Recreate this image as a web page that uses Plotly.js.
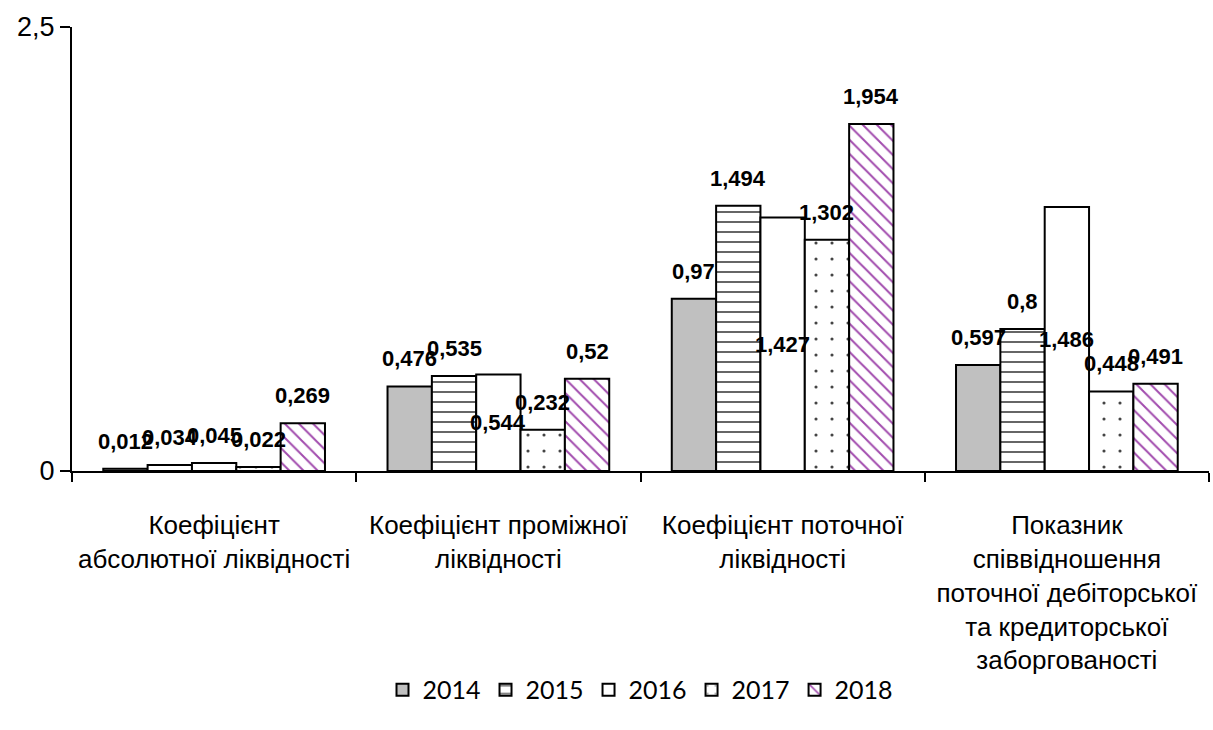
<!DOCTYPE html>
<html><head><meta charset="utf-8">
<script src="https://cdn.plot.ly/plotly-3.0.1.min.js"></script>
<style>html,body{margin:0;padding:0;background:#fff}#chart{width:1213px;height:730px}</style>
</head><body><div id="chart"></div>
<script>
// ---- data ----
const categories = [
  'Коефіцієнт<br>абсолютної ліквідності',
  'Коефіцієнт проміжної<br>ліквідності',
  'Коефіцієнт поточної<br>ліквідності',
  'Показник<br>співвідношення<br>поточної дебіторської<br>та кредиторської<br>заборгованості'
];
const years = ['2014', '2015', '2016', '2017', '2018'];
const v2014 = [0.012, 0.476, 0.97, 0.597];
const v2015 = [0.034, 0.535, 1.494, 0.8];
const v2016 = [0.045, 0.544, 1.427, 1.486];
const v2017 = [0.022, 0.232, 1.302, 0.448];
const v2018 = [0.269, 0.52, 1.954, 0.491];
const yTickVals = [0, 2.5];
const yTickText = ['0', '2,5'];

// ---- styles ----
const series = [v2014, v2015, v2016, v2017, v2018];
const styles = [
  {color: '#c0c0c0'},
  {color: '#ffffff', pattern: {shape: '-', fgcolor: '#333', bgcolor: '#fff', size: 10, solidity: 0.15}},
  {color: '#ffffff'},
  {color: '#ffffff', pattern: {shape: '.', fgcolor: '#444', bgcolor: '#fff', size: 16, solidity: 0.03}},
  {color: '#ffffff', pattern: {shape: '\\', fgcolor: '#a24cae', bgcolor: '#fff', size: 10, solidity: 0.2}}
];
const labelMiddle = [false, false, true, false, false];
const bargap = 0.22;
const barW = (1 - bargap) / series.length;
const plotH = 730 - 27 - 259;
const yMax = 2.5;

const traces = series.map((vals, i) => ({
  type: 'bar',
  name: years[i],
  x: categories,
  y: vals,
  marker: Object.assign({line: {color: '#000', width: 2}}, styles[i]),
  hoverinfo: 'skip'
}));

const fmt = v => String(v).replace('.', ',');
const annotations = [];
series.forEach((vals, i) => {
  vals.forEach((v, k) => {
    const px = v / yMax * plotH;
    const mid = labelMiddle[i] && px > 30;
    annotations.push({
      x: k + (i - (series.length - 1) / 2) * barW,
      y: mid ? v / 2 : v,
      xref: 'x', yref: 'y',
      text: fmt(v),
      showarrow: false,
      xanchor: 'center',
      yanchor: mid ? 'middle' : 'bottom',
      yshift: mid ? 0 : 13,
      font: {family: 'Liberation Sans, Arial', size: 22, color: '#000', weight: 'bold'}
    });
  });
});

const layout = {
  width: 1213, height: 730,
  margin: {l: 72, r: 4, t: 27, b: 259},
  paper_bgcolor: '#fff', plot_bgcolor: '#fff',
  separators: ', ',
  barmode: 'group',
  bargap: bargap,
  bargroupgap: 0,
  showlegend: true,
  legend: {
    orientation: 'h', x: 0.5, xanchor: 'center', y: -0.493, yanchor: 'middle',
    font: {family: 'Lato, Open Sans, sans-serif', size: 25, color: '#000'},
    traceorder: 'normal'
  },
  xaxis: {
    type: 'category',
    showline: true, linecolor: '#000', linewidth: 2,
    ticks: 'outside', tickson: 'boundaries', ticklen: 9, tickwidth: 2, tickcolor: '#000',
    tickfont: {family: 'Liberation Sans, Arial', size: 26, color: '#000'},
    ticklabelstandoff: 30,
    showgrid: false, zeroline: false, fixedrange: true
  },
  yaxis: {
    range: [0, yMax],
    tickvals: yTickVals, ticktext: yTickText,
    showline: true, linecolor: '#000', linewidth: 2,
    ticks: 'outside', ticklen: 10, tickwidth: 2, tickcolor: '#000',
    tickfont: {family: 'Liberation Sans, Arial', size: 27, color: '#000'},
    showgrid: true, gridcolor: '#000', gridwidth: 2,
    zeroline: false, fixedrange: true
  },
  annotations: annotations
};

Plotly.newPlot('chart', traces, layout, {staticPlot: true, displayModeBar: false});
</script>
</body></html>
